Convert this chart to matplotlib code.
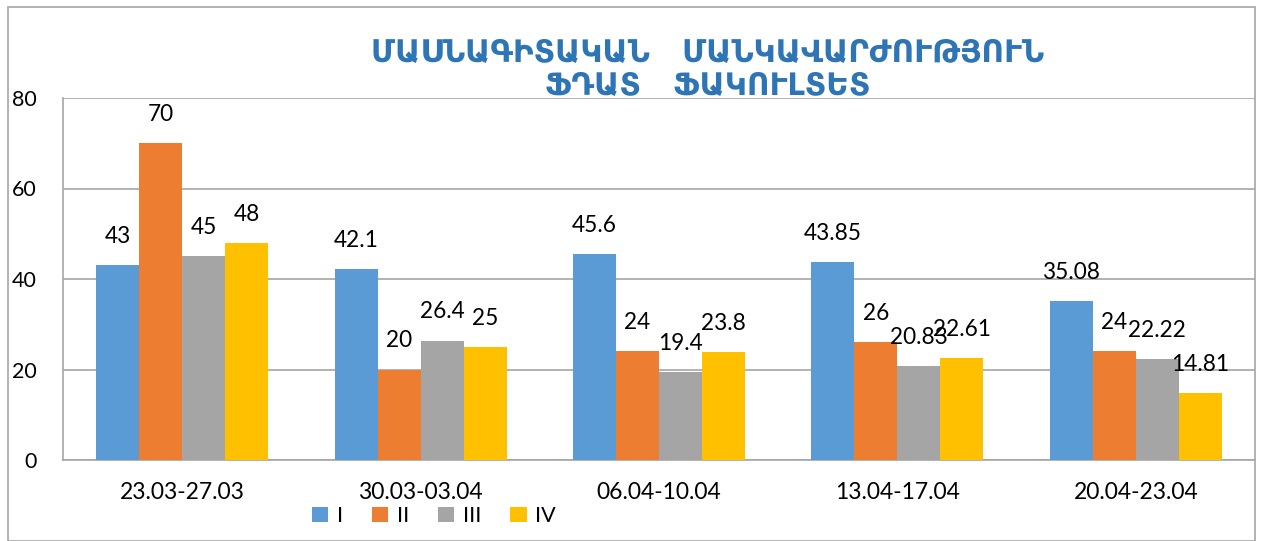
import matplotlib
matplotlib.use("Agg")
import matplotlib.pyplot as plt
from matplotlib.patches import Rectangle
import numpy as np

categories = ["23.03-27.03", "30.03-03.04", "06.04-10.04", "13.04-17.04", "20.04-23.04"]
series_names = ["I", "II", "III", "IV"]
s1 = [43, 42.1, 45.6, 43.85, 35.08]
s2 = [70, 20, 24, 26, 24]
s3 = [45, 26.4, 19.4, 20.83, 22.22]
s4 = [48, 25, 23.8, 22.61, 14.81]
series = [s1, s2, s3, s4]
colors = ["#5B9BD5", "#ED7D31", "#A5A5A5", "#FFC000"]
title_lines = "ՄԱՍՆԱԳԻՏԱԿԱՆ   ՄԱՆԿԱՎԱՐԺՈՒԹՅՈՒՆ\nՖԴԱՏ   ՖԱԿՈՒԼՏԵՏ"
yticks = [0, 20, 40, 60, 80]

plt.rcParams['font.family'] = ['Lato', 'DejaVu Sans']

fig = plt.figure(figsize=(12.61, 5.41), dpi=100)
ax = fig.add_axes([63/1261, 81/541, (1255-63)/1261, (460-98)/541])

# figure border
fig.patches.append(Rectangle((8/1261, 0.5/541), (1255-8)/1261, (534)/541,
                             transform=fig.transFigure, fill=False,
                             edgecolor="#A6A6A6", linewidth=1.2))

x = np.arange(len(categories))
w = 0.1805
for j, (vals, c, name) in enumerate(zip(series, colors, series_names)):
    pos = x + (j - 1.5) * w
    bars = ax.bar(pos, vals, width=w, color=c, label=name, zorder=3)
    for b, v in zip(bars, vals):
        ax.annotate(f"{v:g}", (b.get_x() + b.get_width() / 2, v),
                    xytext=(0, 13), textcoords="offset points",
                    ha="center", va="bottom", fontsize=16.3, color="#000000")

ax.set_xlim(-0.5, len(categories) - 0.5)
ax.set_ylim(0, 80)
ax.set_yticks(yticks)
ax.set_yticklabels([str(t) for t in yticks], fontsize=15.5)
ax.set_xticks(x)
ax.set_xticklabels(categories, fontsize=16.5)
ax.tick_params(axis="y", length=0, pad=19)
ax.tick_params(axis="x", length=0, pad=16)
ax.yaxis.grid(True, color="#A6A6A6", linewidth=1.2, zorder=0)
ax.set_axisbelow(True)
for s in ["top", "right"]:
    ax.spines[s].set_visible(False)
ax.spines["left"].set_color("#A6A6A6")
ax.spines["left"].set_linewidth(1.2)
ax.spines["bottom"].set_color("#A6A6A6")
ax.spines["bottom"].set_linewidth(1.2)

fig.text(708/1261, 1 - 70/541, title_lines, ha="center", va="center",
         fontsize=22.3, fontweight="bold", color="#2E75B6",
         family=["DejaVu Sans"], linespacing=1.2)

leg = fig.legend(loc="center", bbox_to_anchor=(434/1261, 1 - 516/541), ncol=4,
                 frameon=False, fontsize=15.5, handlelength=0.75, handleheight=0.7,
                 handletextpad=0.4, columnspacing=1.35)

fig.savefig("out.png", dpi=100)
